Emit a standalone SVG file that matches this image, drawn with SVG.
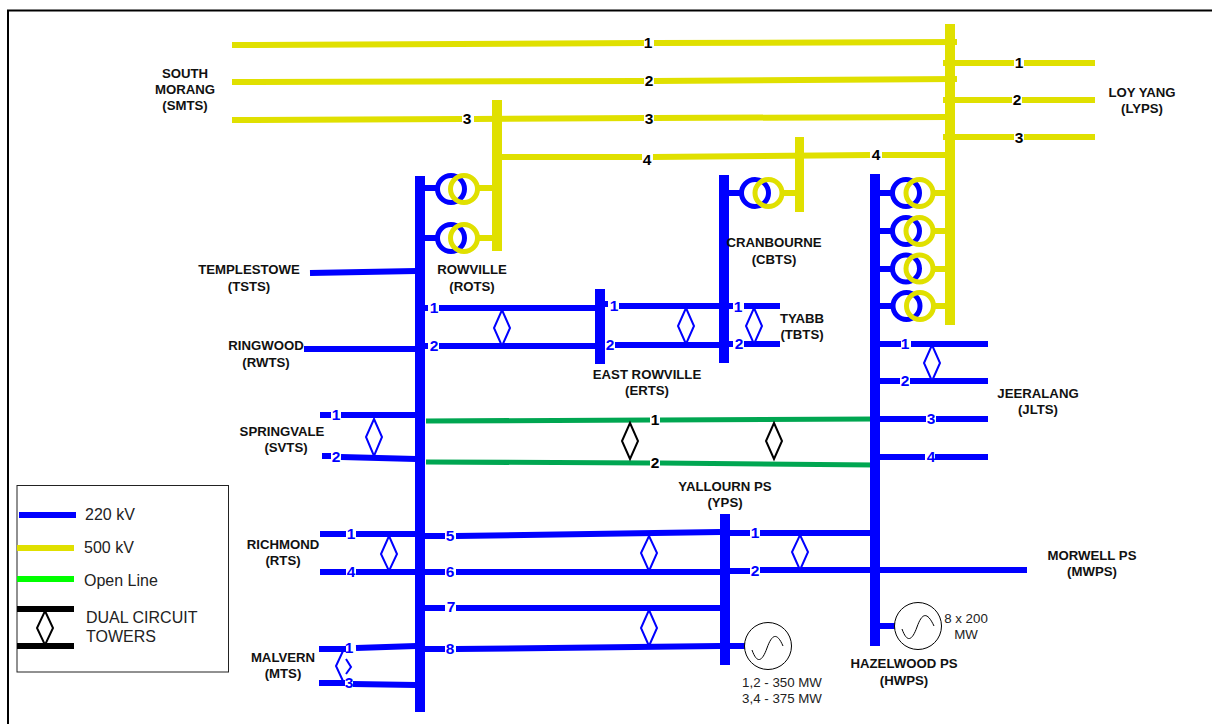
<svg xmlns="http://www.w3.org/2000/svg" width="1212" height="724" viewBox="0 0 1212 724">
<style>
.b{stroke:#0000ff;fill:none;stroke-width:6}
.y{stroke:#e0e000;fill:none;stroke-width:6}
.g{stroke:#00a651;fill:none;stroke-width:5}
.k{stroke:#000;fill:none;stroke-width:6}
.d{stroke:#0000ff;fill:#fff;stroke-width:2}
.dk{stroke:#000;fill:#fff;stroke-width:2}
.tb{stroke:#0000ff;fill:none;stroke-width:5}
.ty{stroke:#e0e000;fill:none;stroke-width:5}
.gen{stroke:#000;fill:#fff;stroke-width:1}
text{font-family:"Liberation Sans",Arial,sans-serif}
.l{font-size:13.200px;font-weight:bold;fill:#111;text-anchor:middle}
.n{font-size:15.500px;font-weight:bold;fill:#000;text-anchor:middle}
.nb{font-size:15.500px;font-weight:bold;fill:#0000ff;text-anchor:middle}
.s{font-size:13.300px;fill:#222;text-anchor:middle}
.lg{font-size:16px;fill:#222}
</style>
<g id="frame"><path d="M8 724V10.500H1212" fill="none" stroke="#000" stroke-width="2"/></g>
<g id="connectors">
<path class="y" d="M232 45L644 43M654 43L957 42M232 82L644 81M654 81L957 79M232 120L462 119M474 119L644 118M654 118L947 117M500 157L642 157M653 157L870 155M882 155L947 155"/>
<path class="y" d="M943 63H1014M1024 63H1095M943 100H1012M1022 100H1095M943 137H1014M1024 137H1095"/>
<path class="b" d="M310 273L416 271M304 349H416M320 415H331M341 415H416M322 456H331M341 457L416 459M320 534H346M356 534H416M320 572H346M356 572H416M319 649H346M356 648L416 646M319 683H345M353 684L416 685"/>
<path class="b" d="M424 308H428M439 308H596M424 346H428M439 346H596M604 304H608M619 306H720M615 345H720M728 306H733M744 306H780M728 344H733M744 344H780"/>
<path class="b" d="M424 536H445M456 536L720 532M424 572H445M456 572H720M424 608H445M456 608H720M424 649H445M456 649L720 646"/>
<path class="b" d="M730 533H750M760 533H870M730 571H750M760 570H1027M880 344H901M911 344H988M880 381H900M910 381H988M880 419H926M936 419H988M880 457H925M935 457H988"/>
<path class="g" d="M426 421L650 420M660 420L875 419M426 462L650 463M660 463L875 465"/>
<rect x="415" y="176" width="10" height="536" fill="#00f"/>
<rect x="595" y="289" width="10" height="75" fill="#00f"/>
<rect x="719" y="175" width="10" height="188" fill="#00f"/>
<rect x="870" y="174" width="10" height="472" fill="#00f"/>
<rect x="720" y="514" width="10" height="151" fill="#00f"/>
<rect x="492" y="100" width="10" height="151" fill="#e0e000"/>
<rect x="795" y="137" width="9" height="75" fill="#e0e000"/>
<rect x="945" y="24" width="10" height="301" fill="#e0e000"/>
<path class="b" d="M880 626H895M730 646H745"/>
</g>
<g id="transformers">
<path class="b" d="M425 188H437M425 238H437M729 193H741M880 193H892M880 231H892M880 269H892M880 306H892"/>
<path class="y" d="M478 188H492M478 238H492M782 193H795M933 193H945M933 231H945M933 269H945M933 306H945"/>
<g class="tb"><circle cx="451" cy="189" r="13.500"/><circle cx="451" cy="238" r="13.500"/><circle cx="755" cy="193" r="13.500"/><circle cx="906" cy="193" r="13.500"/><circle cx="906" cy="231" r="13.500"/><circle cx="906" cy="268.500" r="13.500"/><circle cx="906.500" cy="306" r="13.500"/></g>
<g class="ty"><circle cx="464" cy="189" r="13.500"/><circle cx="464" cy="238" r="13.500"/><circle cx="768.500" cy="193" r="13.500"/><circle cx="919.500" cy="193" r="13.500"/><circle cx="919.500" cy="231" r="13.500"/><circle cx="919.500" cy="268.500" r="13.500"/><circle cx="920" cy="306" r="13.500"/></g>
</g>
<g id="towers">
<path class="d" d="M502 310L510 328L502 346L494 328Z"/>
<path class="d" d="M686 308L694 326L686 344L678 326Z"/>
<path class="d" d="M754 308L762 326L754 344L746 326Z"/>
<path class="d" d="M932 345L940 363L932 381L924 363Z"/>
<path class="d" d="M374 419L382 437L374 456L366 437Z"/>
<path class="d" d="M389 536L397 554L389 571L381 554Z"/>
<path class="d" d="M649 536L657 553L649 571L641 553Z"/>
<path class="d" d="M800 535L808 552L800 570L792 552Z"/>
<path class="d" d="M649 610L657 628L649 646L641 628Z"/>
<path class="d" fill="none" style="fill:none" d="M343 651L336 666L343 681" />
<path class="d" style="fill:none" d="M346 659L351 667L346 674" />
<path class="dk" d="M630 423L638 441L630 459L622 441Z"/>
<path class="dk" d="M774 423L782 441L774 459L766 441Z"/>
</g>
<g id="generators">
<circle class="gen" cx="768" cy="646" r="23.500"/><path d="M752 650C757 664 762 662 767 648C772 634 777 632 783 646" fill="none" stroke="#000"/>
<circle class="gen" cx="918" cy="626" r="23.500"/><path d="M902 629C907 643 912 641 917 627C922 613 927 611 934 626" fill="none" stroke="#000"/>
</g>
<g id="line-numbers">
<text class="n" x="648" y="48">1</text><text class="n" x="649" y="86">2</text><text class="n" x="649" y="124">3</text><text class="n" x="647" y="165">4</text><text class="n" x="467" y="124">3</text><text class="n" x="876" y="160">4</text><text class="n" x="1019" y="68">1</text><text class="n" x="1017" y="105">2</text><text class="n" x="1019" y="143">3</text>
<text class="n" x="655" y="425">1</text><text class="n" x="655" y="468">2</text>
<text class="nb" x="434" y="313">1</text><text class="nb" x="434" y="351">2</text><text class="nb" x="614" y="311">1</text><text class="nb" x="610" y="350">2</text><text class="nb" x="738" y="312">1</text><text class="nb" x="739" y="349">2</text>
<text class="nb" x="905" y="349">1</text><text class="nb" x="905" y="386">2</text><text class="nb" x="931" y="424">3</text><text class="nb" x="931" y="462">4</text>
<text class="nb" x="336" y="420">1</text><text class="nb" x="336" y="462">2</text><text class="nb" x="351" y="539">1</text><text class="nb" x="351" y="577">4</text><text class="nb" x="349" y="653">1</text><text class="nb" x="349" y="688">3</text>
<text class="nb" x="450" y="541">5</text><text class="nb" x="450" y="577">6</text><text class="nb" x="451" y="612">7</text><text class="nb" x="450" y="654">8</text><text class="nb" x="755" y="538">1</text><text class="nb" x="755" y="576">2</text>
</g>
<g id="labels">
<text class="l"><tspan x="185" y="78">SOUTH</tspan><tspan x="185" y="94">MORANG</tspan><tspan x="185" y="110">(SMTS)</tspan></text>
<text class="l"><tspan x="1142" y="97">LOY YANG</tspan><tspan x="1142" y="113">(LYPS)</tspan></text>
<text class="l"><tspan x="249" y="274">TEMPLESTOWE</tspan><tspan x="249" y="291">(TSTS)</tspan></text>
<text class="l"><tspan x="472" y="274">ROWVILLE</tspan><tspan x="472" y="291">(ROTS)</tspan></text>
<text class="l"><tspan x="774" y="247">CRANBOURNE</tspan><tspan x="774" y="264">(CBTS)</tspan></text>
<text class="l"><tspan x="802" y="323">TYABB</tspan><tspan x="802" y="339">(TBTS)</tspan></text>
<text class="l"><tspan x="266" y="350">RINGWOOD</tspan><tspan x="266" y="367">(RWTS)</tspan></text>
<text class="l"><tspan x="647" y="379">EAST ROWVILLE</tspan><tspan x="647" y="395">(ERTS)</tspan></text>
<text class="l"><tspan x="1038" y="398">JEERALANG</tspan><tspan x="1038" y="414">(JLTS)</tspan></text>
<text class="l"><tspan x="282" y="436">SPRINGVALE</tspan><tspan x="286" y="452">(SVTS)</tspan></text>
<text class="l"><tspan x="725" y="491">YALLOURN PS</tspan><tspan x="725" y="507">(YPS)</tspan></text>
<text class="l"><tspan x="283" y="549">RICHMOND</tspan><tspan x="283" y="565">(RTS)</tspan></text>
<text class="l"><tspan x="1092" y="560">MORWELL PS</tspan><tspan x="1092" y="576">(MWPS)</tspan></text>
<text class="l"><tspan x="283" y="662">MALVERN</tspan><tspan x="283" y="678">(MTS)</tspan></text>
<text class="l"><tspan x="904" y="668">HAZELWOOD PS</tspan><tspan x="904" y="685">(HWPS)</tspan></text>
<text class="s"><tspan x="782" y="687">1,2 - 350 MW</tspan><tspan x="782" y="703">3,4 - 375 MW</tspan></text>
<text class="s"><tspan x="966" y="623">8 x 200</tspan><tspan x="966" y="639">MW</tspan></text>
</g>
<g id="legend">
<rect x="17" y="485.500" width="211.500" height="186.500" fill="#fff" stroke="#222"/>
<path class="b" d="M19 515H76"/><path class="y" d="M17 548H74"/><path d="M17 579H74" stroke="#00ff00" stroke-width="6"/>
<path class="k" d="M17 609H74M17 646H74"/>
<path class="dk" d="M45 611L53 628L45 645L37 628Z"/>
<text class="lg" x="85" y="520">220 kV</text><text class="lg" x="84" y="553">500 kV</text><text class="lg" x="84" y="586">Open Line</text><text class="lg"><tspan x="86" y="623">DUAL CIRCUIT</tspan><tspan x="86" y="642">TOWERS</tspan></text>
</g>
</svg>
